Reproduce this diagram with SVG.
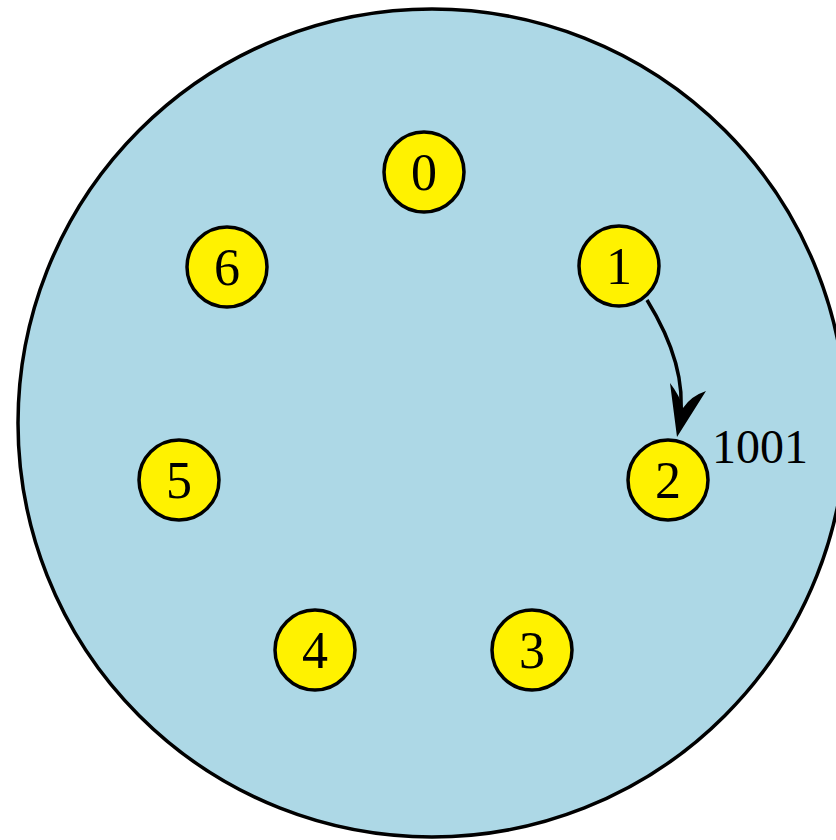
<svg xmlns="http://www.w3.org/2000/svg" width="836" height="840" viewBox="0 0 836 840">
<style>
.node circle{fill:#fff200;stroke:#000;stroke-width:3.5}
.node text{font-family:"Liberation Serif","DejaVu Serif",serif;font-size:52px;text-anchor:middle;fill:#000}
.lbl{font-family:"Liberation Serif","DejaVu Serif",serif;font-size:48px;fill:#000}
</style>
<rect width="836" height="840" fill="#fff"/>
<g id="ring"><circle cx="432" cy="423" r="414" fill="#add8e6" stroke="#000" stroke-width="3.5"/></g>
<g id="connectors">
<path d="M647,300 C668,334 686,378 680,420" fill="none" stroke="#000" stroke-width="3.5"/>
<path d="M677,437 L670,383 Q680,396 683,408 Q691,396 706,391 Z" fill="#000"/>
<text class="lbl" x="712" y="463">1001</text>
</g>
<g id="n0" class="node"><circle cx="424" cy="172" r="40"/><text x="424" y="190">0</text></g>
<g id="n1" class="node"><circle cx="619" cy="266" r="40"/><text x="619" y="284">1</text></g>
<g id="n2" class="node"><circle cx="668" cy="480" r="40"/><text x="668" y="498">2</text></g>
<g id="n3" class="node"><circle cx="532" cy="650" r="40"/><text x="532" y="668">3</text></g>
<g id="n4" class="node"><circle cx="315" cy="650" r="40"/><text x="315" y="668">4</text></g>
<g id="n5" class="node"><circle cx="179" cy="480" r="40"/><text x="179" y="498">5</text></g>
<g id="n6" class="node"><circle cx="227" cy="267" r="40"/><text x="227" y="285">6</text></g>
</svg>
